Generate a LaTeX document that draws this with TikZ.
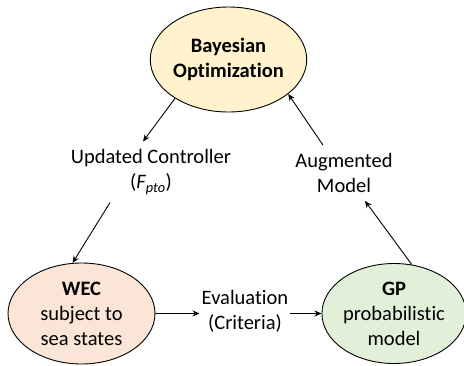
\documentclass[tikz,border=0pt]{standalone}
\usepackage{fontspec}
\setmainfont{Carlito}[Ligatures=NoCommon]
\usetikzlibrary{shapes.geometric,arrows.meta}
\definecolor{boyellow}{HTML}{FFF2CC}
\definecolor{wecorange}{HTML}{FBE5D6}
\definecolor{gpgreen}{HTML}{E2F0D9}
\tikzset{
	blob/.style={ellipse,draw,line width=0.9pt,inner sep=0pt,align=center,font=\fontsize{20.5}{25}\selectfont},
	lbl/.style={align=center,inner sep=2pt,font=\fontsize{20.5}{25}\selectfont},
	flow/.style={line width=0.9pt,-{Stealth[length=7pt,width=6pt]}},
}
\begin{document}
\begin{tikzpicture}[x=1pt,y=-1pt]
	% Frame
	\useasboundingbox (0,0) rectangle (464,365);
	% Ellipses
	\node[blob,fill=boyellow,minimum width=147,minimum height=105] (bo) at (228.5,59.5) {\textbf{Bayesian}\\\textbf{Optimization}};
	\node[blob,fill=wecorange,minimum width=147,minimum height=101] (wec) at (81.5,313.5) {\textbf{WEC}\\subject to\\sea states};
	\node[blob,fill=gpgreen,minimum width=140,minimum height=100] (gp) at (394,313.5) {\textbf{GP}\\probabilistic\\model};
	% Labels
	\node[lbl] (uc) at (151,172) {Updated Controller\\(\textit{F\textsubscript{pto}})};
	\node[lbl] (aug) at (344,173) {Augmented\\Model};
	\node[lbl] (ev) at (245,311) {Evaluation\\(Criteria)};
	% Loop
	\draw[flow] (bo.216) -- ([xshift=-8pt,yshift=6pt]uc.north);
	\draw[flow] ([xshift=-41pt,yshift=-6pt]uc.south) -- (wec.100);
	\draw[flow] (wec.east) -- (ev.west |- wec.east);
	\draw[flow] (ev.east |- gp.west) -- (gp.west);
	\draw[flow] (gp.70) -- ([xshift=21pt,yshift=-6pt]aug.south);
	\draw[flow] ([xshift=-21pt,yshift=6pt]aug.north) -- (bo.330);
\end{tikzpicture}
\end{document}
